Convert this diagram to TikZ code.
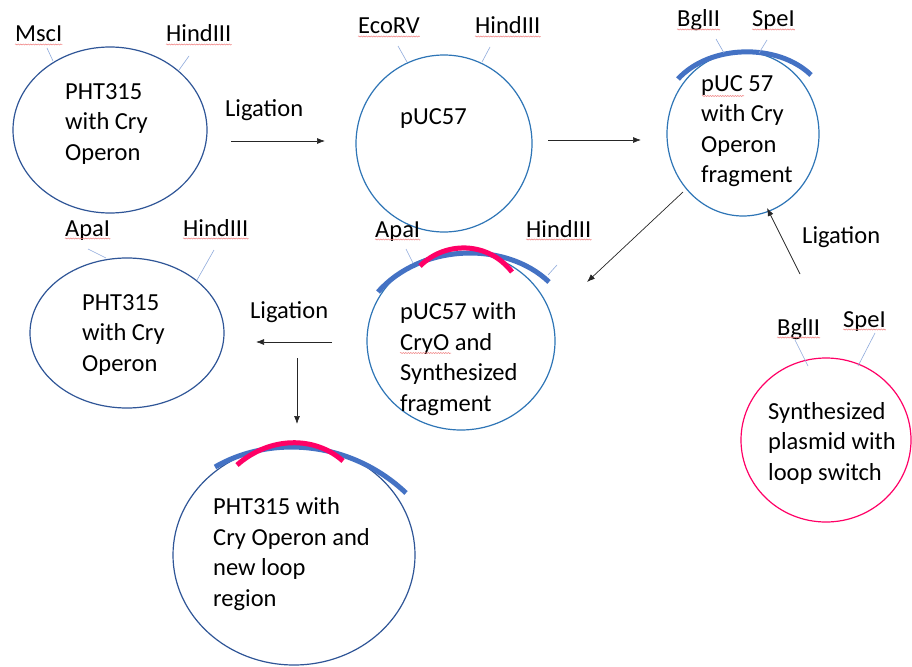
\documentclass[tikz,border=0pt]{standalone}
\usepackage{fontspec}
\setmainfont{Carlito}
\usetikzlibrary{shapes.geometric,arrows.meta,decorations.pathmorphing}
\definecolor{dkblue}{HTML}{2F5597}
\definecolor{mdblue}{HTML}{2E75B6}
\definecolor{arcblue}{HTML}{4472C4}
\definecolor{pinkc}{HTML}{FF0066}
\definecolor{tickc}{HTML}{8FAADC}
\definecolor{spellc}{HTML}{F08080}
\begin{document}
\begin{tikzpicture}[x=1pt,y=-1pt,
  plas/.style={ellipse,inner sep=0pt,line width=1.2pt},
  txt/.style={font=\fontsize{24.5}{30.5}\selectfont,align=left,inner sep=0pt,anchor=west},
  lbl/.style={font=\fontsize{24.5}{30.5}\selectfont,inner sep=0pt,anchor=base west},
  tick/.style={draw=tickc,line width=0.6pt},
  arr/.style={draw=black!85,line width=0.7pt,-{Latex[length=8pt,width=6pt]}},
  bluearc/.style={draw=arcblue,line width=5pt},
  pinkarc/.style={draw=pinkc,line width=5pt},
  spell/.style={draw=spellc,line width=0.5pt,decorate,decoration={snake,amplitude=0.6pt,segment length=2.5pt}}]
\useasboundingbox[fill=white] (0,0) rectangle (912,666);

% plasmids
\node[plas,draw=dkblue,minimum width=194pt,minimum height=166pt] (p1) at (110,130) {};
\node[plas,draw=mdblue,minimum width=176pt,minimum height=177pt] (p2) at (444,143.5) {};
\node[plas,draw=mdblue,minimum width=152pt,minimum height=164pt] (p3) at (743,134) {};
\node[plas,draw=pinkc,minimum width=170pt,minimum height=164pt] (p4) at (826,440) {};
\node[plas,draw=mdblue,minimum width=188pt,minimum height=178pt] (p5) at (461,341) {};
\node[plas,draw=dkblue,minimum width=194pt,minimum height=150pt] (p6) at (127,333) {};
\node[plas,draw=dkblue,minimum width=242pt,minimum height=220pt] (p7) at (294,555) {};

% inserted fragments
\draw[bluearc] (678,79) .. controls (710,44) and (778,43) .. (811,75);
\draw[bluearc] (378,292) .. controls (420,244) and (505,240) .. (549,282);
\draw[pinkarc] (420,266) .. controls (445,241) and (488,241) .. (512,272);
\draw[bluearc] (215,467) .. controls (270,435) and (350,440) .. (406,493);
\draw[pinkarc] (237,465) .. controls (270,436) and (315,436) .. (343,461);

% texts
\node[txt] (t1) at (65,124) {PHT315\\with Cry\\Operon};
\node[txt] (t2) at (400,119) {pUC57};
\node[txt] (t3) at (701,131) {pUC 57\\with Cry\\Operon\\fragment};
\node[txt] (t4) at (768,443) {Synthesized\\plasmid with\\loop switch};
\node[txt] (t5) at (400,359) {pUC57 with\\CryO and\\Synthesized\\fragment};
\node[txt] (t6) at (82,335) {PHT315\\with Cry\\Operon};
\node[txt] (t7) at (213,554) {PHT315 with\\Cry Operon and\\new loop\\region};

% site labels
\node[lbl] (l1a) at (15,42) {MscI};
\node[lbl] (l1b) at (166,42) {HindIII};
\node[lbl] (l2a) at (358,34) {EcoRV};
\node[lbl] (l2b) at (475,34) {HindIII};
\node[lbl] (l3a) at (677,27) {BglII};
\node[lbl] (l3b) at (752,27) {SpeI};
\node[lbl] (l4a) at (777,335) {BglII};
\node[lbl] (l4b) at (843,327) {SpeI};
\node[lbl] (l5a) at (375,237) {ApaI};
\node[lbl] (l5b) at (526,237) {HindIII};
\node[lbl] (l6a) at (65,236) {ApaI};
\node[lbl] (l6b) at (183,236) {HindIII};

\foreach \n in {l1a,l1b,l2a,l2b,l3a,l3b,l4a,l4b,l5a,l5b,l6a,l6b}
  \draw[spell] ([yshift=-2.5pt]\n.base west) -- ([yshift=-2.5pt]\n.base east);
\draw[spell] (702,96) -- (744,96);
\draw[spell] (400,353) -- (451,353);

% site ticks
\draw[tick] (47,48) -- (53,61);
\draw[tick] (189,56) -- (179,70);
\draw[tick] (398,46) -- (407,62);
\draw[tick] (490,47) -- (482,62);
\draw[tick] (716,39) -- (724,53);
\draw[tick] (767,40) -- (759,53);
\draw[tick] (795,340) -- (808,366);
\draw[tick] (875,333) -- (858,366);
\draw[tick] (406,249) -- (413,263);
\draw[tick] (557,265) -- (548,275);
\draw[tick] (88,249) -- (106,258);
\draw[tick] (214,250) -- (197,280);

% ligation labels
\node[lbl] (g1) at (225,117) {Ligation};
\node[lbl] (g2) at (802,243) {Ligation};
\node[lbl] (g3) at (250,318) {Ligation};

% arrows
\coordinate (a1s) at (231,141); \coordinate (a1e) at (325,141);
\coordinate (a2s) at (548,140); \coordinate (a2e) at (641,140);
\coordinate (a3s) at (683,192); \coordinate (a3e) at (587,282);
\coordinate (a4s) at (800,274); \coordinate (a4e) at (767,208);
\coordinate (a5s) at (332,342); \coordinate (a5e) at (256,342);
\coordinate (a6s) at (297,358); \coordinate (a6e) at (297,424);
\draw[arr] (a1s) -- (a1e);
\draw[arr] (a2s) -- (a2e);
\draw[arr] (a3s) -- (a3e);
\draw[arr] (a4s) -- (a4e);
\draw[arr] (a5s) -- (a5e);
\draw[arr] (a6s) -- (a6e);
\end{tikzpicture}
\end{document}
